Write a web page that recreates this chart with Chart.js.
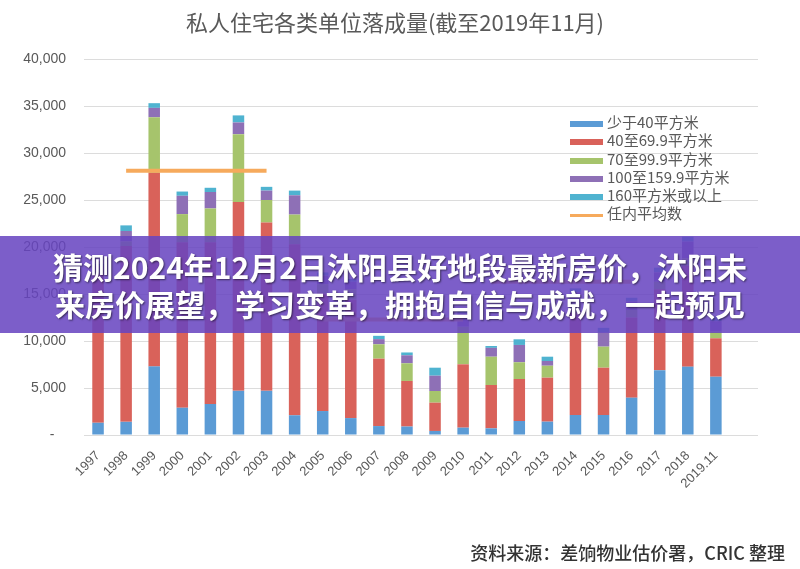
<!DOCTYPE html>
<html>
<head>
<meta charset="utf-8">
<script src="https://cdn.jsdelivr.net/npm/chart.js@4"></script>
<style>
  body { margin: 0; background: #fff; }
  #wrap { position: relative; width: 800px; height: 569px; overflow: hidden; }
  #title { position: absolute; top: 5px; left: 0; width: 790px; text-align: center;
    font: 22px "Noto Sans CJK SC", sans-serif; color: #595959; }
  #legend { position: absolute; left: 570px; top: 113px; font: 15px "Noto Sans CJK SC", sans-serif; color: #595959; }
  #legend div { height: 18.3px; line-height: 18px; white-space: nowrap; }
  #legend span.key { display: inline-block; width: 33px; vertical-align: middle; margin-right: 4px; }
  #banner { position: absolute; left: 0; top: 236px; width: 800px; height: 97px;
    background: rgba(102, 68, 192, 0.86); color: #fff; text-align: center;
    font: bold 30px "Noto Sans CJK SC", sans-serif; line-height: 37px; padding-top: 12px; box-sizing: border-box;
    text-shadow: 1px 1px 2px rgba(0,0,0,0.55); }
  #source { position: absolute; right: 15px; top: 539px; font: 500 18px "Noto Sans CJK SC", sans-serif; color: #333; }
</style>
</head>
<body>
<div id="wrap">
  <canvas id="chart" width="800" height="569"></canvas>
  <div id="title">私人住宅各类单位落成量(截至2019年11月)</div>
  <div id="legend"></div>
  <div id="banner">猜测2024年12月2日沐阳县好地段最新房价，沐阳未<br>来房价展望，学习变革，拥抱自信与成就，一起预见</div>
  <div id="source">资料来源：差饷物业估价署，CRIC 整理</div>
</div>
<script>
const years = ['1997','1998','1999','2000','2001','2002','2003','2004','2005','2006','2007','2008',
  '2009','2010','2011','2012','2013','2014','2015','2016','2017','2018','2019.11'];

const under40  = [1300,1400,7300,2900,3300,4700,4700,2100,2550,1800,950,900,430,780,710,1490,1420,2130,2130,3970,6900,7270,6200];
const sq40to70 = [15800,18700,20600,17600,17200,20100,17900,18200,12500,12600,7170,4850,3010,6740,4610,4470,4680,10870,5030,8530,8600,10730,4090];
const sq70to100 = [400,500,5900,3000,3600,7200,2400,3150,1000,1100,1530,1880,1240,4000,3010,1780,1270,1000,2240,800,800,800,710];
const sq100to160 = [500,1100,1000,1950,1750,1250,1000,2050,900,800,550,850,1630,1400,940,1840,500,1200,1500,900,1000,1770,1100];
const over160 = [200,600,500,450,450,750,400,500,350,300,350,300,850,500,200,600,460,400,500,400,500,530,500];

// 任内平均数, one piece per term
const termAvg1 = [null,28100,28100,28100,28100,28100,28100,null,null,null,null,null,null,null,null,null,null,null,null,null,null,null,null];
const termAvg2 = [null,null,null,null,null,null,null,null,12300,12300,12300,12300,12300,12300,null,null,null,null,null,null,null,null,null];
const termAvg3 = [null,null,null,null,null,null,null,null,null,null,null,null,null,null,16300,16300,16300,16300,16300,16300,null,null,null];

const seriesNames = ['少于40平方米','40至69.9平方米','70至99.9平方米','100至159.9平方米','160平方米或以上'];
const avgName = '任内平均数';
const colors = ['#5B9BD5','#D9625A','#A6C46C','#8E70B6','#4FB3D0'];
const avgColor = '#F6AA5C';

const slots = [...years, ''];
const barData = [under40, sq40to70, sq70to100, sq100to160, over160];

const datasets = barData.map((d, i) => ({
  type: 'bar',
  label: seriesNames[i],
  data: d,
  backgroundColor: colors[i],
  stack: 'units',
  order: 1,
  categoryPercentage: 1,
  barPercentage: 0.41
}));

[termAvg1, termAvg2, termAvg3].forEach((d, i) => {
  datasets.push({
    type: 'line',
    label: avgName,
    data: d,
    borderColor: avgColor,
    borderWidth: 4,
    pointRadius: 0,
    stack: 'avg' + i,
    order: 0
  });
});

// legend
const legend = document.getElementById('legend');
seriesNames.forEach((n, i) => {
  legend.innerHTML += `<div><span class="key" style="height:6px;background:${colors[i]}"></span>${n}</div>`;
});
legend.innerHTML += `<div><span class="key" style="height:3px;background:${avgColor}"></span>${avgName}</div>`;

new Chart(document.getElementById('chart'), {
  data: { labels: slots, datasets: datasets },
  options: {
    responsive: false,
    animation: false,
    layout: { padding: { top: 59, right: 42, bottom: 0, left: 0 } },
    plugins: { legend: { display: false }, tooltip: { enabled: false } },
    scales: {
      x: {
        stacked: true,
        grid: { display: false },
        border: { display: false },
        ticks: {
          color: '#595959',
          font: { family: 'Liberation Sans', size: 13 },
          maxRotation: 45, minRotation: 45,
          padding: 5,
          autoSkip: false
        },
        afterFit: (s) => { s.height = 134; }
      },
      y: {
        stacked: true,
        min: 0, max: 40000,
        grid: { color: '#dcdcdc', drawTicks: false },
        border: { display: false },
        ticks: {
          stepSize: 5000,
          color: '#595959',
          padding: 18,
          font: { family: 'Liberation Sans', size: 14 },
          callback: (v) => v === 0 ? '-   ' : v.toLocaleString('en-US')
        },
        afterFit: (s) => { s.width = 84; }
      }
    }
  }
});
</script>
</body>
</html>
